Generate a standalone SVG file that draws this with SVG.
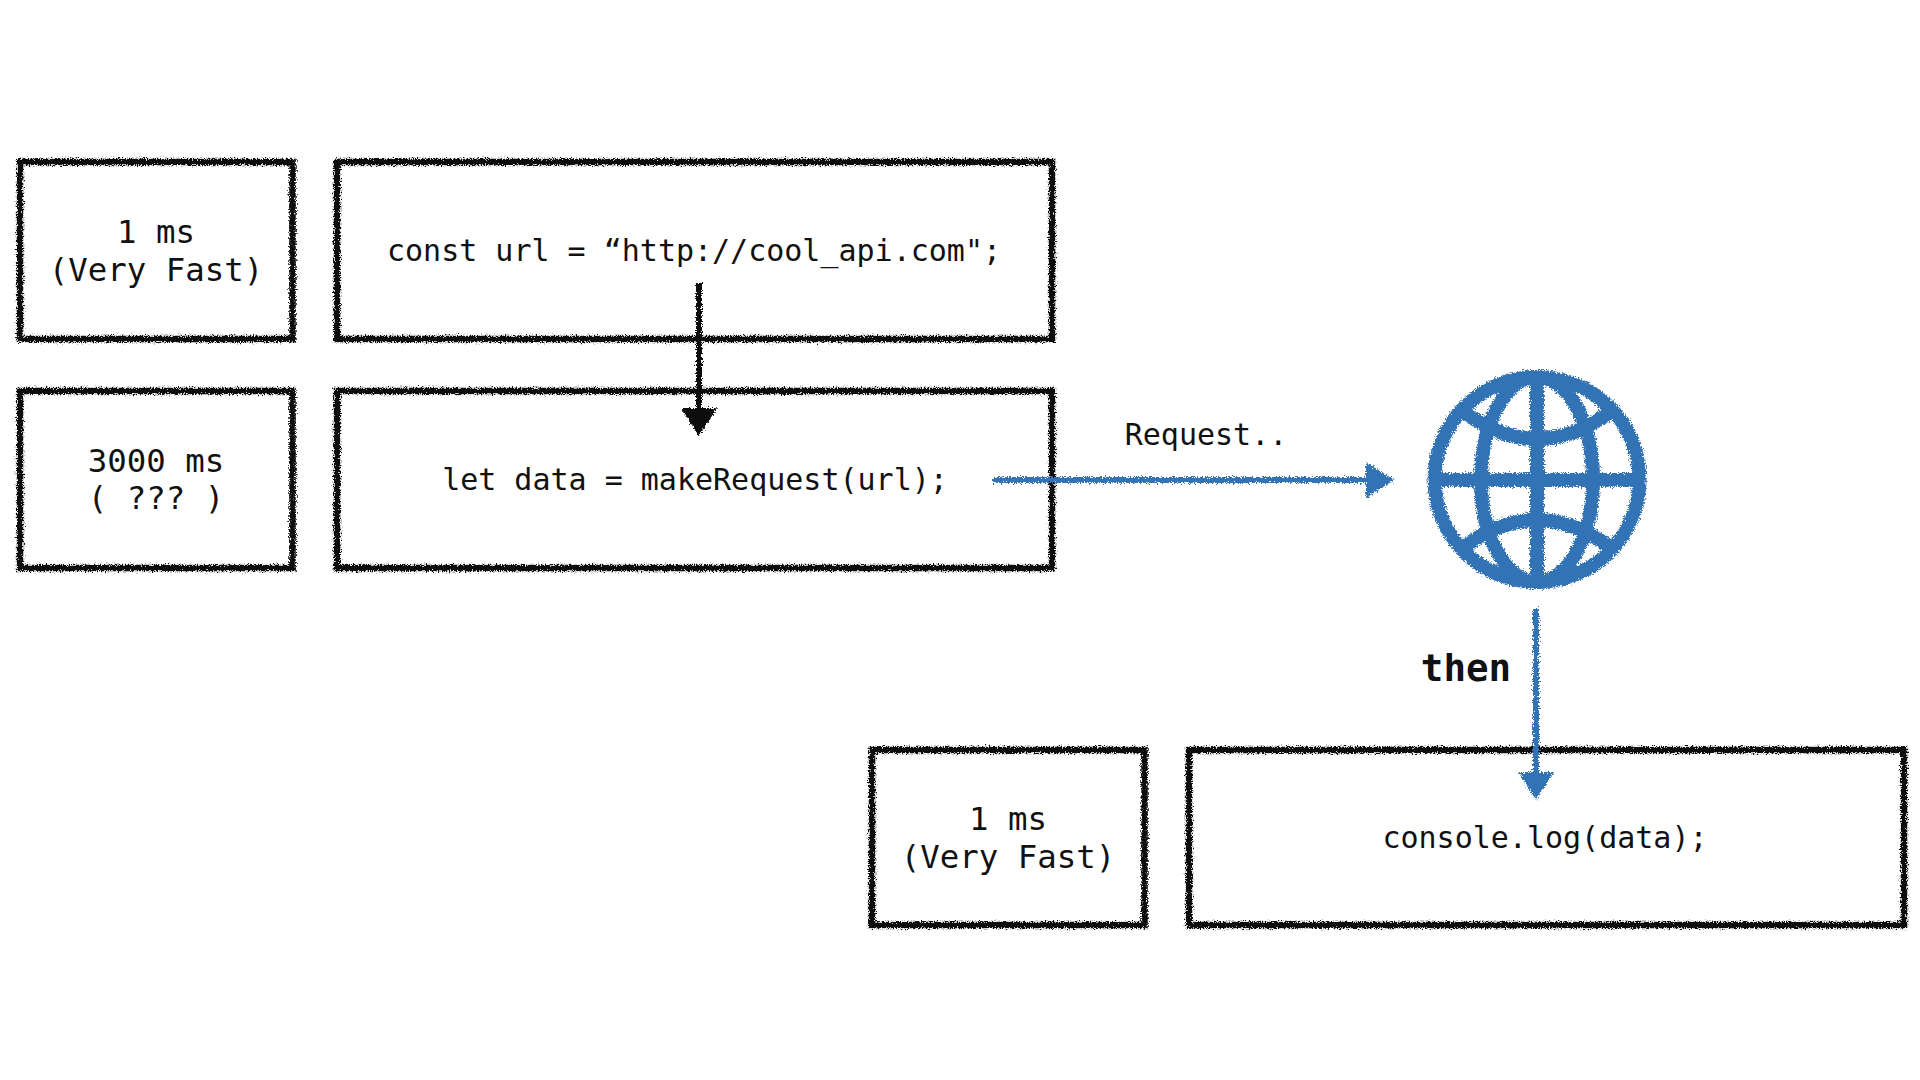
<svg xmlns="http://www.w3.org/2000/svg" width="1920" height="1080" viewBox="0 0 1920 1080">
<style>
.box{fill:none;stroke:#0d0d0d;stroke-width:6.5;stroke-linejoin:miter}
.t{font-family:"DejaVu Sans Mono","Liberation Mono",monospace;fill:#111;text-anchor:middle}
.s32{font-size:32.4px}
.s30{font-size:30px}
.b{font-size:37.5px;font-weight:bold}
.k{fill:none;stroke:#0d0d0d;stroke-width:6}
.u{fill:none;stroke:#3373b5;stroke-width:6}
.g{fill:none;stroke:#3373b5;stroke-width:14}
</style>
<defs>
<filter id="rough" filterUnits="userSpaceOnUse" x="0" y="0" width="1920" height="1080">
<feTurbulence type="fractalNoise" baseFrequency="0.75" numOctaves="2" seed="4" result="n"/>
<feDisplacementMap in="SourceGraphic" in2="n" scale="7" xChannelSelector="R" yChannelSelector="G"/>
</filter>
<marker id="hk" markerUnits="userSpaceOnUse" markerWidth="40" markerHeight="40" refX="0" refY="18" orient="auto">
<path d="M0 0L28 18L0 36Z" fill="#0d0d0d"/>
</marker>
<marker id="hu" markerUnits="userSpaceOnUse" markerWidth="40" markerHeight="40" refX="0" refY="18" orient="auto">
<path d="M0 0L28 18L0 36Z" fill="#3373b5"/>
</marker>
</defs>
<rect width="1920" height="1080" fill="#fff"/>
<g filter="url(#rough)">
<g id="time-1"><rect class="box" x="20" y="162" width="272.5" height="177"/></g>
<g id="code-1"><rect class="box" x="337" y="162" width="715" height="177"/></g>
<g id="time-2"><rect class="box" x="20" y="391" width="272.5" height="177"/></g>
<g id="code-2"><rect class="box" x="337" y="391" width="715" height="177"/></g>
<g id="time-3"><rect class="box" x="872" y="750" width="272.5" height="175"/></g>
<g id="code-3"><rect class="box" x="1189" y="750" width="715" height="175"/></g>
<g id="globe" class="g">
<circle cx="1537" cy="479.5" r="102.5"/>
<ellipse cx="1537" cy="479.5" rx="56" ry="102.5"/>
<path d="M1537 377V582M1434 480H1640"/>
<path d="M1464 412Q1537 466 1610 412"/>
<path d="M1464 547Q1537 493 1610 547"/>
</g>
<g id="connectors">
<path class="k" d="M699 283V408" marker-end="url(#hk)"/>
<path class="u" d="M992 480H1366" marker-end="url(#hu)"/>
<path class="u" d="M1536 609V772" marker-end="url(#hu)"/>
</g>
</g>
<text class="t s32" x="156" y="243">1 ms</text>
<text class="t s32" x="156" y="281">(Very Fast)</text>
<text class="t s30" x="694" y="261">const url = “http://cool_api.com";</text>
<text class="t s32" x="156" y="472">3000 ms</text>
<text class="t s32" x="156" y="509">( ??? )</text>
<text class="t s30" x="695" y="490">let data = makeRequest(url);</text>
<text class="t s30" x="1206" y="445">Request..</text>
<text class="t b" x="1466" y="681">then</text>
<text class="t s32" x="1008" y="830">1 ms</text>
<text class="t s32" x="1008" y="868">(Very Fast)</text>
<text class="t s30" x="1545" y="848">console.log(data);</text>
</svg>
